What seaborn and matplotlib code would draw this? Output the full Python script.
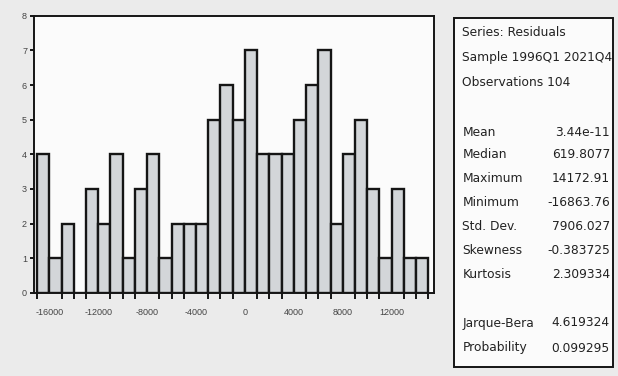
import matplotlib
matplotlib.use("Agg")
import matplotlib.pyplot as plt
from matplotlib.patches import Rectangle
from matplotlib.ticker import FixedLocator
import seaborn as sns

# Histogram of residuals: bin lower edges (width 1000) and counts
bin_width = 1000
bin_lefts = [-17000, -16000, -15000, -14000, -13000, -12000, -11000, -10000,
             -9000, -8000, -7000, -6000, -5000, -4000, -3000, -2000,
             -1000, 0, 1000, 2000, 3000, 4000, 5000, 6000,
             7000, 8000, 9000, 10000, 11000, 12000, 13000, 14000]
counts = [4, 1, 2, 0, 3, 2, 4, 1,
          3, 4, 1, 2, 2, 2, 5, 6,
          5, 7, 4, 4, 4, 5, 6, 7,
          2, 4, 5, 3, 1, 3, 1, 1]

x_major_ticks = [-16000, -12000, -8000, -4000, 0, 4000, 8000, 12000]
y_ticks = [0, 1, 2, 3, 4, 5, 6, 7, 8]

# Descriptive statistics panel
header_lines = ["Series: Residuals", "Sample 1996Q1 2021Q4", "Observations 104"]
stat_names = ["Mean", "Median", "Maximum", "Minimum", "Std. Dev.", "Skewness", "Kurtosis"]
stat_values = ["3.44e-11", "619.8077", "14172.91", "-16863.76", "7906.027", "-0.383725", "2.309334"]
test_names = ["Jarque-Bera", "Probability"]
test_values = ["4.619324", "0.099295"]

sns.set_style("white")
plt.rcParams["font.family"] = ["Liberation Sans", "DejaVu Sans"]

fig = plt.figure(figsize=(6.18, 3.76), dpi=100, facecolor="#ebebeb")
ax = fig.add_axes([0.055, 0.221, 0.647, 0.737])
ax.set_facecolor("#fbfbfb")

centers = [b + bin_width / 2 for b in bin_lefts]
edges = bin_lefts + [bin_lefts[-1] + bin_width]
sns.histplot(x=centers, weights=counts, bins=edges, ax=ax,
             color="#d3d6d9", edgecolor="#151515", linewidth=1.7, alpha=1.0)

ax.set_xlim(-17250, 15450)
ax.set_ylim(0, 8)
ax.set_xlabel("")
ax.set_ylabel("")

ax.xaxis.set_major_locator(FixedLocator(x_major_ticks))
ax.xaxis.set_minor_locator(FixedLocator([e for e in edges if e not in x_major_ticks]))
ax.set_xticklabels([str(t) for t in x_major_ticks])
ax.set_yticks(y_ticks)
ax.tick_params(axis="x", which="major", direction="out", length=9, width=1.4,
               labelsize=6.5, pad=2, color="#151515", labelcolor="#444444")
ax.tick_params(axis="x", which="minor", direction="out", length=4, width=1.4,
               color="#151515", bottom=True)
ax.tick_params(axis="y", direction="out", length=3, width=1.4, left=True,
               labelsize=6.5, pad=2, color="#151515", labelcolor="#444444")
for side in ["left", "bottom", "top", "right"]:
    ax.spines[side].set_visible(True)
    ax.spines[side].set_color("#151515")
    ax.spines[side].set_linewidth(1.4)

# Statistics box
box = Rectangle((0.7346, 0.024), 0.2573, 0.928, transform=fig.transFigure,
                facecolor="#fbfbfb", edgecolor="#151515", linewidth=1.4)
fig.patches.append(box)

lx = 0.748
rx = 0.987
fs = 8.8
tc = "#222222"
box_font = ["DejaVu Sans"]

def ypos(py):
    return 1 - py / 376

for text, py in zip(header_lines, [33, 58, 82]):
    fig.text(lx, ypos(py), text, fontsize=fs, color=tc, va="center", ha="left",
             family=box_font)

for name, val, py in zip(stat_names, stat_values, [132, 155, 179, 203, 227, 251, 275]):
    fig.text(lx, ypos(py), name, fontsize=fs, color=tc, va="center", ha="left",
             family=box_font)
    fig.text(rx, ypos(py), val, fontsize=fs, color=tc, va="center", ha="right",
             family=box_font)

for name, val, py in zip(test_names, test_values, [323, 348]):
    fig.text(lx, ypos(py), name, fontsize=fs, color=tc, va="center", ha="left",
             family=box_font)
    fig.text(rx, ypos(py), val, fontsize=fs, color=tc, va="center", ha="right",
             family=box_font)

fig.savefig("out.png", dpi=100, facecolor=fig.get_facecolor())
